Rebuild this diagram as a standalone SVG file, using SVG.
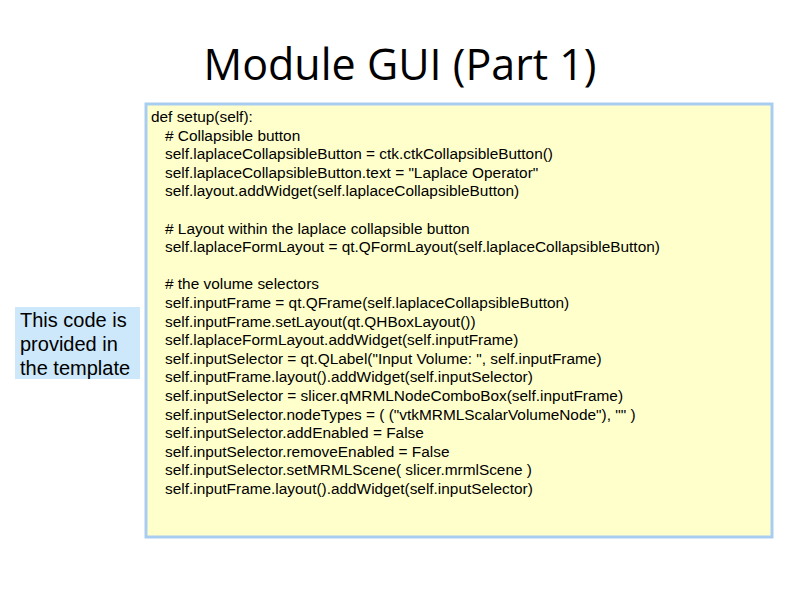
<svg xmlns="http://www.w3.org/2000/svg" width="800" height="600" viewBox="0 0 800 600">
<style>
.c{font-family:"Liberation Sans",Arial,sans-serif;font-size:15.4px;fill:#000}
.l{font-family:"Liberation Sans",Arial,sans-serif;font-size:20px;fill:#000}
</style>
<rect width="800" height="600" fill="#fff"/>
<text x="400" y="80" text-anchor="middle" font-family="'Open Sans',sans-serif" font-size="43" fill="#000">Module GUI (Part 1)</text>
<g id="code">
<rect x="146" y="104" width="626" height="433" fill="#ffffcc" stroke="#a9cdf0" stroke-width="3"/>
<text class="c" x="151" y="122">def setup(self):</text>
<text class="c" x="165" y="140.6"># Collapsible button</text>
<text class="c" x="165" y="159.2">self.laplaceCollapsibleButton = ctk.ctkCollapsibleButton()</text>
<text class="c" x="165" y="177.8">self.laplaceCollapsibleButton.text = "Laplace Operator"</text>
<text class="c" x="165" y="196.4">self.layout.addWidget(self.laplaceCollapsibleButton)</text>
<text class="c" x="165" y="233.6"># Layout within the laplace collapsible button</text>
<text class="c" x="165" y="252.2">self.laplaceFormLayout = qt.QFormLayout(self.laplaceCollapsibleButton)</text>
<text class="c" x="165" y="289.4"># the volume selectors</text>
<text class="c" x="165" y="308">self.inputFrame = qt.QFrame(self.laplaceCollapsibleButton)</text>
<text class="c" x="165" y="326.6">self.inputFrame.setLayout(qt.QHBoxLayout())</text>
<text class="c" x="165" y="345.2">self.laplaceFormLayout.addWidget(self.inputFrame)</text>
<text class="c" x="165" y="363.8">self.inputSelector = qt.QLabel("Input Volume: ", self.inputFrame)</text>
<text class="c" x="165" y="382.4">self.inputFrame.layout().addWidget(self.inputSelector)</text>
<text class="c" x="165" y="401">self.inputSelector = slicer.qMRMLNodeComboBox(self.inputFrame)</text>
<text class="c" x="165" y="419.6">self.inputSelector.nodeTypes = ( ("vtkMRMLScalarVolumeNode"), "" )</text>
<text class="c" x="165" y="438.2">self.inputSelector.addEnabled = False</text>
<text class="c" x="165" y="456.8">self.inputSelector.removeEnabled = False</text>
<text class="c" x="165" y="475.4">self.inputSelector.setMRMLScene( slicer.mrmlScene )</text>
<text class="c" x="165" y="494">self.inputFrame.layout().addWidget(self.inputSelector)</text>
</g>
<g id="note">
<rect x="15" y="307" width="125" height="72" fill="#cce8fa"/>
<text class="l" x="20" y="327">This code is</text>
<text class="l" x="20" y="351">provided in</text>
<text class="l" x="20" y="375">the template</text>
</g>
</svg>
